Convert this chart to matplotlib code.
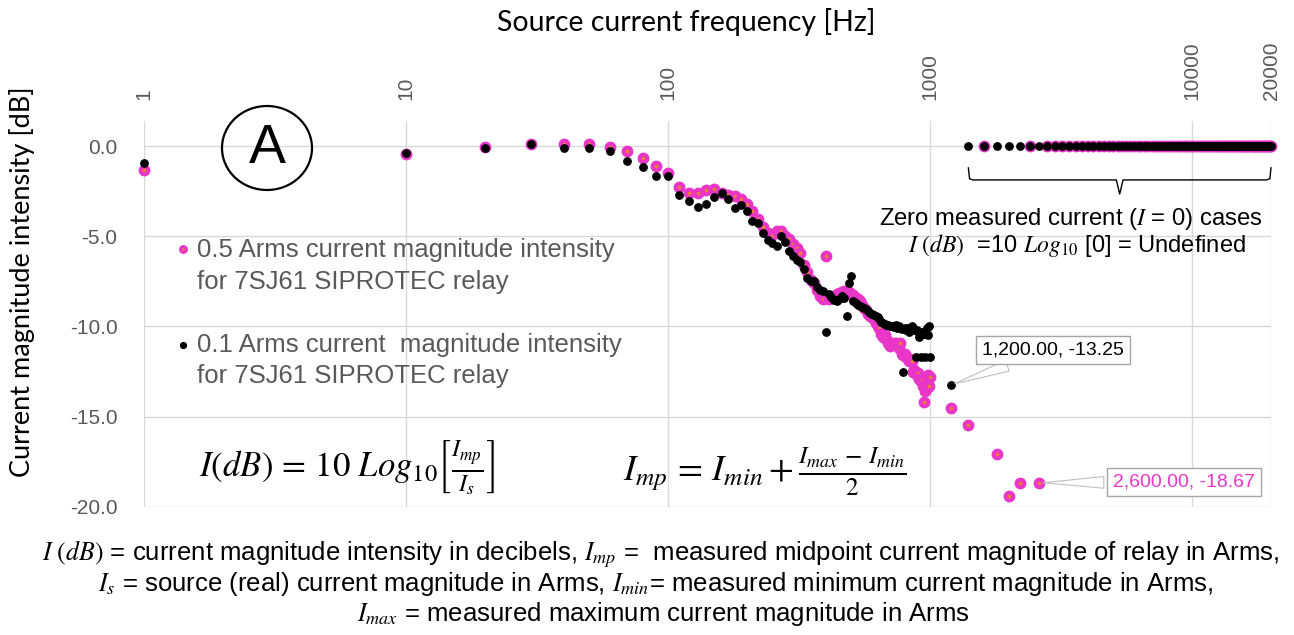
import matplotlib
matplotlib.use('Agg')
import matplotlib.pyplot as plt
from matplotlib.patches import Ellipse
from matplotlib.lines import Line2D
from matplotlib.ticker import NullLocator

plt.rcParams['font.family'] = ['Liberation Sans', 'DejaVu Sans']
plt.rcParams['mathtext.fontset'] = 'stix'

MAGENTA = '#E936C8'
ORANGE = '#ED7D31'
GRAY_TXT = '#595959'

# ---- data: frequency sweep [Hz] and intensity [dB] ----
freq_low = [1, 10, 20, 30, 40, 50, 60, 70, 80, 90]
db05_low = [-1.3, -0.45, -0.05, 0.1, 0.15, 0.12, -0.05, -0.25, -0.65, -1.1]
db01_low = [-0.95, -0.35, -0.1, 0.1, -0.1, -0.1, -0.25, -0.8, -1.15, -1.63]

freq_mid = list(range(100, 1001, 10))
db05_mid = [-1.5, -2.25, -2.6, -2.6, -2.45, -2.4, -2.6, -2.7, -2.75, -2.9,
            -3.2, -3.6, -4.05, -4.5, -4.8, -4.9, -4.7, -4.7, -5.0, -5.15,
            -5.4, -5.65, -5.95, -6.6, -7.0, -7.4, -7.6, -8.0, -8.3, -8.45,
            -6.1, -8.5, -8.4, -8.3, -8.2, -8.15, -8.1, -8.05, -8.05, -8.1,
            -8.2, -8.25, -8.4, -8.5, -8.6, -8.8, -9.0, -9.1, -9.3, -9.4,
            -9.5, -9.6, -9.8, -10.0, -10.1, -10.4, -10.6, -10.5, -10.7, -10.9,
            -11.1, -11.0, -10.9, -11.0, -10.9, -11.0, -11.2, -10.9, -11.5, -11.6,
            -11.5, -11.7, -11.8, -11.9, -11.8, -11.9, -12.5, -12.4, -12.6, -12.7,
            -12.6, -12.9, -13.0, -13.0, -13.3, -14.2, -13.6, -13.4, -12.7, -13.3,
            -12.8]
db01_mid = [-1.65, -2.7, -3.05, -3.35, -3.2, -2.8, -2.6, -2.9, -3.4, -3.25,
            -3.6, -4.15, -4.25, -4.8, -5.2, -5.35, -5.55, -5.0, -5.3, -5.8,
            -6.1, -6.3, -6.4, -6.8, -7.3, -7.45, -7.5, -7.8, -7.95, -8.05,
            -10.3, -8.2, -8.35, -8.55, -8.6, -8.45, -8.3, -8.4, -9.4, -7.6,
            -7.2, -8.6, -8.7, -8.8, -8.85, -8.9, -9.0, -9.05, -9.15, -9.25,
            -9.3, -9.35, -9.4, -9.5, -9.6, -9.75, -9.8, -9.85, -9.9, -9.9,
            -10.0, -9.95, -10.0, -10.05, -9.9, -10.1, -10.0, -10.1, -10.15, -12.5,
            -10.1, -10.2, -10.1, -10.3, -10.2, -10.0, -10.1, -10.2, -11.7, -10.2,
            -10.3, -10.6, -11.7, -10.3, -10.4, -10.4, -11.7, -10.1, -10.5, -10.0,
            -11.7]

# above 1 kHz: 200 Hz steps, zero measured current plotted as 0 dB
freq_hi = list(range(1200, 20001, 200))
db05_hi = [-14.5, -15.46, 0.0, -17.1, -19.4, -18.67, 0.0, -18.67] + [0.0] * 87
db01_hi = [-13.25] + [0.0] * 94

freq = freq_low + freq_mid + freq_hi
db05 = db05_low + db05_mid + db05_hi
db01 = db01_low + db01_mid + db01_hi

xticks = [1, 10, 100, 1000, 10000, 20000]
xtick_labels = ['1', '10', '100', '1000', '10000', '20000']
yticks = [0, -5, -10, -15, -20]
ytick_labels = ['0.0', '-5.0', '-10.0', '-15.0', '-20.0']

W, H = 1294, 635
def fx(px):
    return px / W
def fy(py):
    return 1 - py / H

fig = plt.figure(figsize=(12.94, 6.35), dpi=100)
ax = fig.add_axes([fx(144), fy(506.7), (1271 - 144) / W, (506.7 - 121) / H])

ax.plot(freq, db05, ls='none', marker='o', ms=5.6, mfc=ORANGE, mec=MAGENTA,
        mew=2.9, zorder=3, clip_on=False)
ax.plot(freq, db01, ls='none', marker='o', ms=5.3, color='black', zorder=4,
        clip_on=False)

ax.set_xscale('log')
ax.set_xlim(1, 20000)
ax.set_ylim(-20, 1.4)
ax.xaxis.tick_top()
ax.set_xticks(xticks)
ax.set_xticklabels(xtick_labels, rotation=90)
ax.xaxis.set_minor_locator(NullLocator())
ax.set_yticks(yticks)
ax.set_yticklabels(ytick_labels)
ax.tick_params(axis='x', length=0, labelsize=15, labelcolor=GRAY_TXT, pad=15)
ax.tick_params(axis='y', length=0, labelsize=15, labelcolor=GRAY_TXT, pad=19)
ax.grid(color='#D9D9D9', lw=1)
ax.set_axisbelow(True)
for s in ax.spines.values():
    s.set_visible(False)

# axis titles
fig.text(fx(686), fy(22), 'Source current frequency [Hz]', family='Lato',
         size=20.5, ha='center', va='center')
fig.text(fx(22), fy(282), 'Current magnitude intensity [dB]', family='Lato',
         size=19.5, rotation=90, ha='center', va='center')

# circled "A"
fig.add_artist(Ellipse((fx(267), fy(148)), 90 / W, 84 / H, transform=fig.transFigure,
                       fill=False, ec='black', lw=1.6))
fig.text(fx(267), fy(149), 'A', size=40, ha='center', va='center')

# legend (drawn by hand, Excel style)
fig.add_artist(Line2D([fx(183)], [fy(249)], marker='o', ms=4.2, mfc=ORANGE, mec=MAGENTA,
                      mew=2.2, transform=fig.transFigure))
fig.add_artist(Line2D([fx(183)], [fy(345)], marker='o', ms=4.2, color='black',
                      transform=fig.transFigure))
fig.text(fx(197), fy(257), '0.5 Arms current magnitude intensity', size=18.5,
         color=GRAY_TXT, va='baseline')
fig.text(fx(197), fy(288.5), 'for 7SJ61 SIPROTEC relay', size=18.5,
         color=GRAY_TXT, va='baseline')
fig.text(fx(197), fy(352), '0.1 Arms current  magnitude intensity', size=18.5,
         color=GRAY_TXT, va='baseline')
fig.text(fx(197), fy(383.5), 'for 7SJ61 SIPROTEC relay', size=18.5,
         color=GRAY_TXT, va='baseline')

# brace over the zero-current points
x0, x1 = freq_hi[1], freq_hi[-1]
xc = (x0 * x1) ** 0.5
ax.plot([x0, x0 * 1.01, x0 * 1.04, xc / 1.03, xc, xc * 1.03, x1 / 1.04, x1 / 1.01, x1],
        [-1.2, -1.8, -1.87, -1.87, -2.65, -1.87, -1.87, -1.8, -1.2],
        color='black', lw=1, clip_on=False, zorder=5)

fig.text(fx(1263), fy(225), 'Zero measured current ($I$ = 0) cases', size=17.2,
         ha='right', va='baseline')
fig.text(fx(1246), fy(252), '$I\\ (dB)$  =10 $Log_{10}$ [0] = Undefined', size=17,
         ha='right', va='baseline')

# data callouts
ax.annotate('1,200.00, -13.25', xy=(1200, -13.25), xytext=(2950, -11.3),
            size=14, ha='center', va='center',
            bbox=dict(boxstyle='square,pad=0.3', fc='white', ec='#A6A6A6', lw=1),
            arrowprops=dict(arrowstyle='wedge,tail_width=0.6', fc='white',
                            ec='#BFBFBF', lw=0.8, shrinkB=3), zorder=6)
ax.annotate('2,600.00, -18.67', xy=(2600, -18.67), xytext=(9300, -18.63),
            size=14, ha='center', va='center', color=MAGENTA,
            bbox=dict(boxstyle='square,pad=0.3', fc='white', ec='#A6A6A6', lw=1),
            arrowprops=dict(arrowstyle='wedge,tail_width=0.6', fc='white',
                            ec='#BFBFBF', lw=0.8, shrinkB=3), zorder=6)

# formulas
fig.text(fx(347), fy(468), r'$I(dB)\,=\,10\ Log_{10}\left[\frac{I_{mp}}{I_s}\right]$',
         size=25, ha='center', va='center')
fig.text(fx(765), fy(472), r'$I_{mp}\,=\,I_{min}+\frac{I_{max}\,-\,I_{min}}{2}$',
         size=26, ha='center', va='center')

# footnote
fig.text(fx(661), fy(560),
         r'$I\ (dB)$ = current magnitude intensity in decibels, $I_{mp}$ =  '
         r'measured midpoint current magnitude of relay in Arms,',
         size=18.5, ha='center', va='baseline')
fig.text(fx(656), fy(591),
         r'$I_s$ = source (real) current magnitude in Arms, $I_{min}$= '
         r'measured minimum current magnitude in Arms,',
         size=18.5, ha='center', va='baseline')
fig.text(fx(663), fy(621), r'$I_{max}$ = measured maximum current magnitude in Arms',
         size=18.5, ha='center', va='baseline')

fig.savefig('out.png', dpi=100)
